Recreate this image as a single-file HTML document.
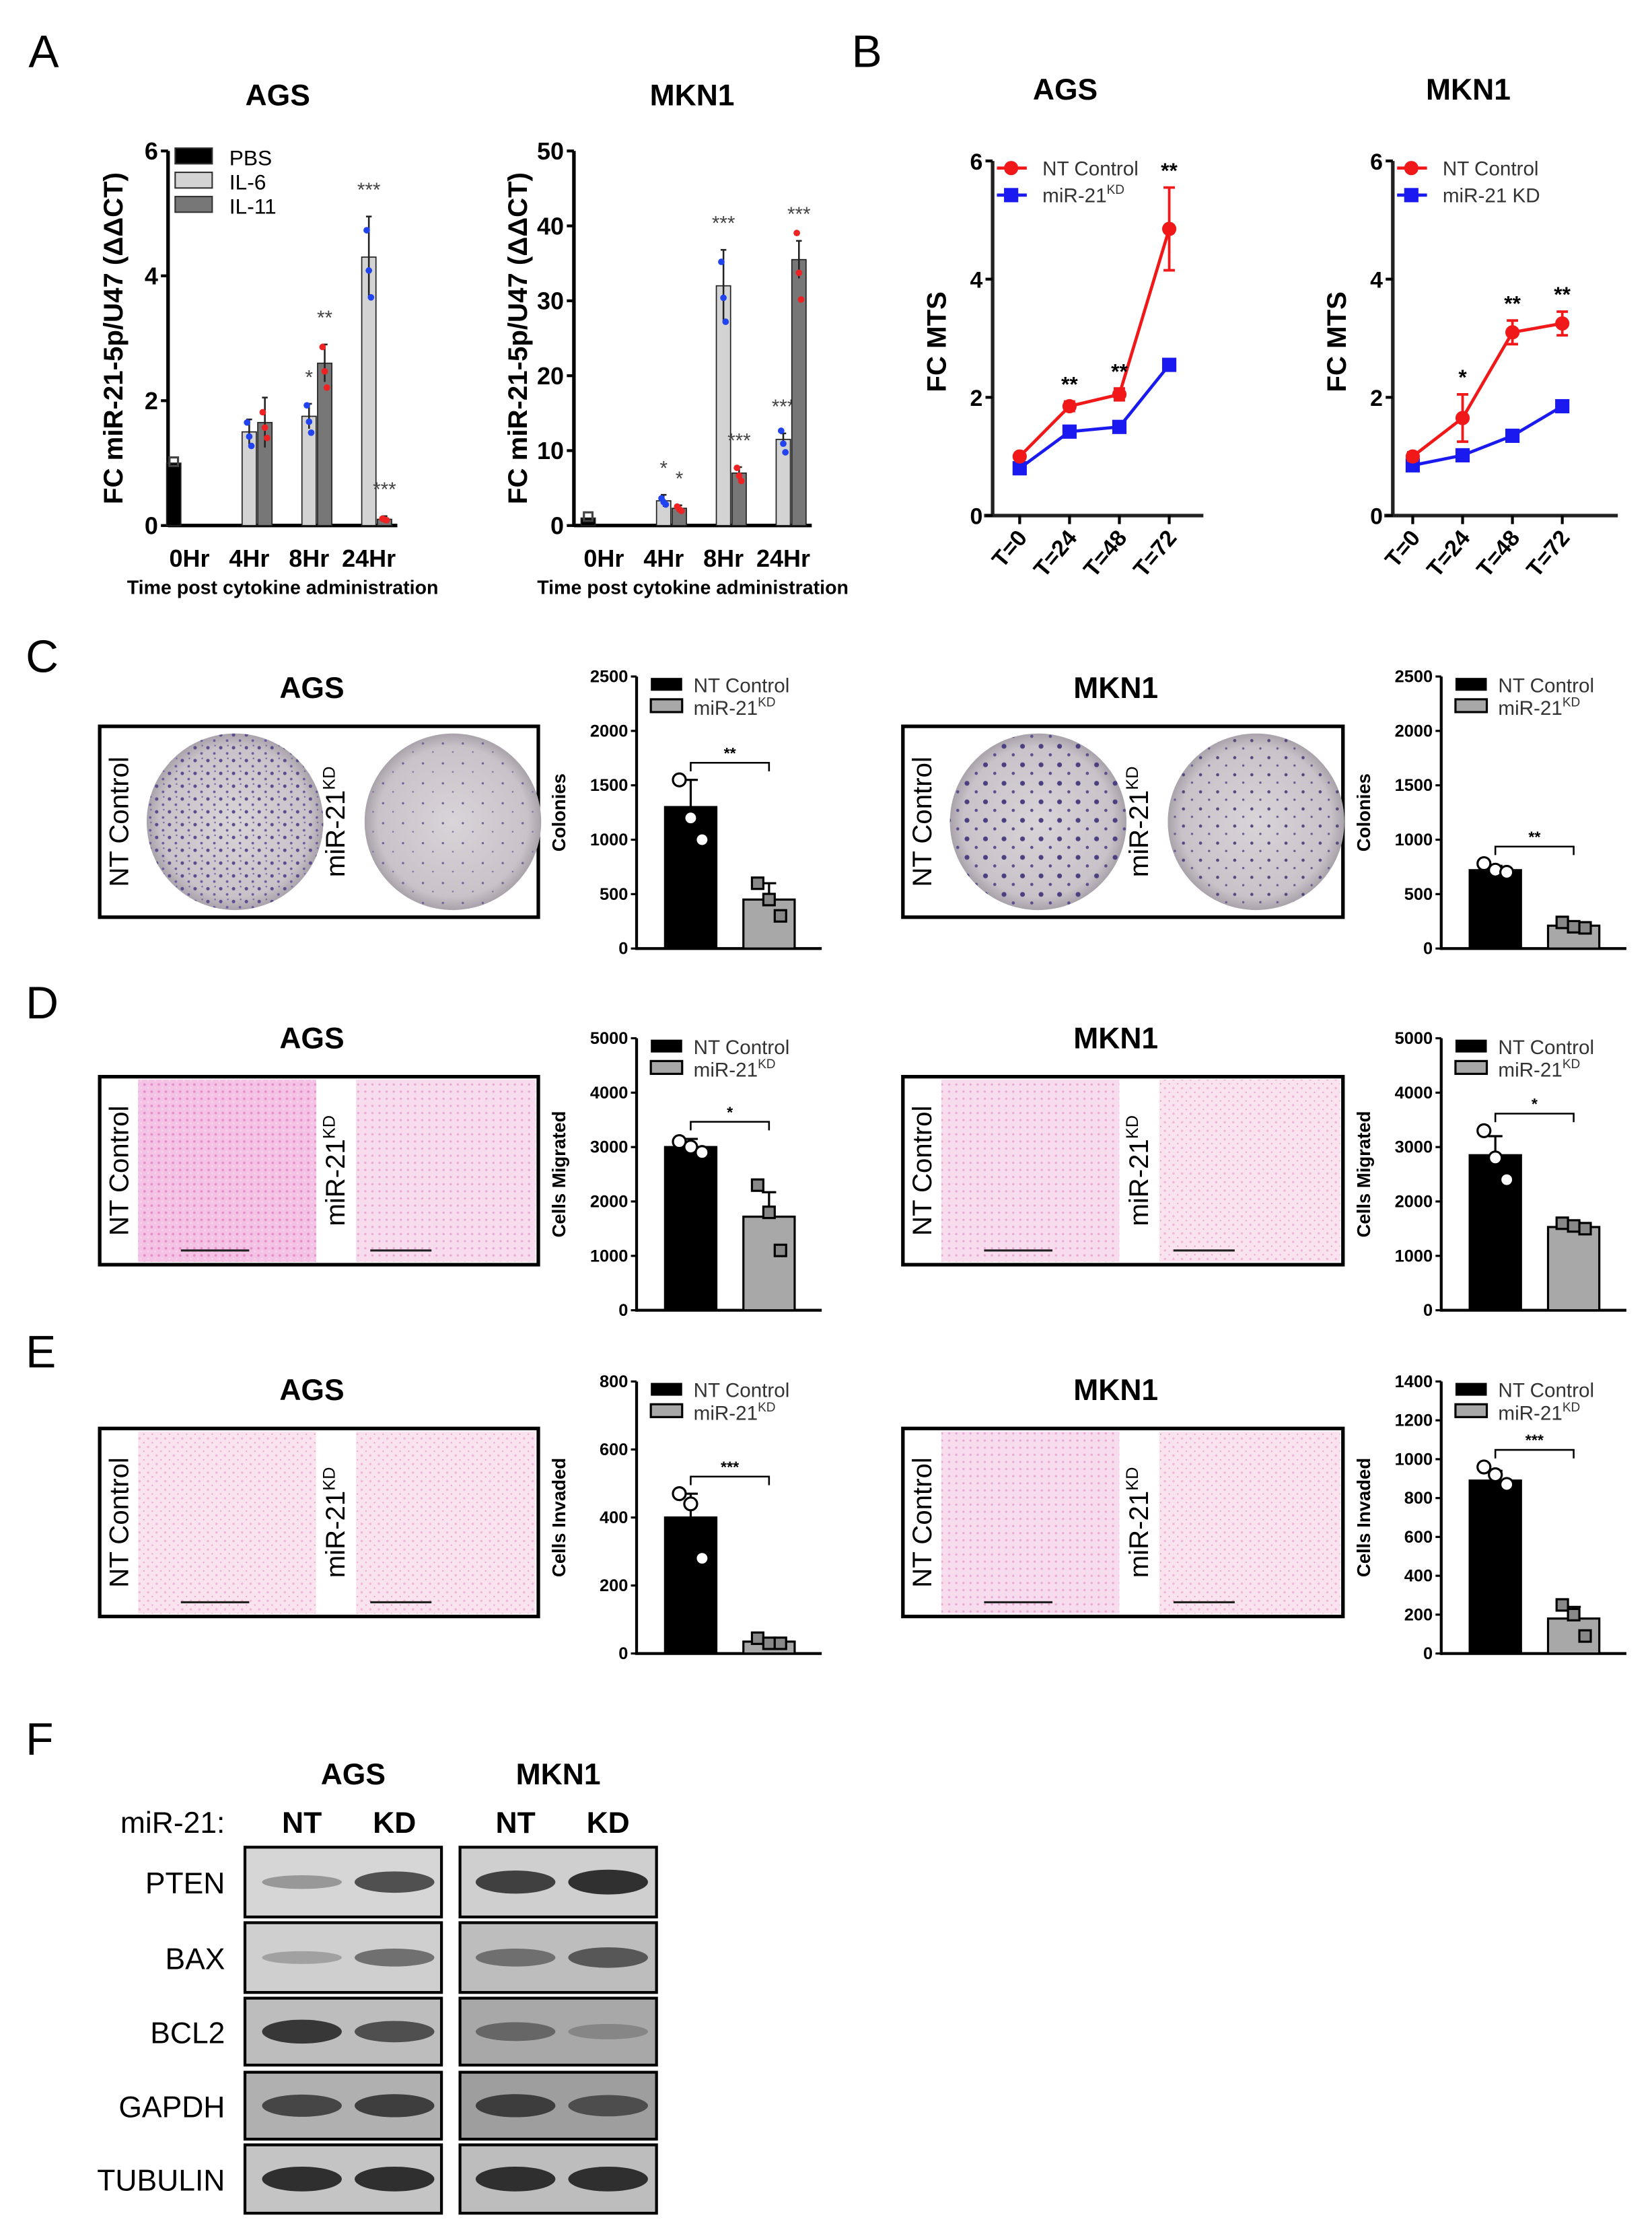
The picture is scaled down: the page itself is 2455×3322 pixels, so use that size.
<!DOCTYPE html>
<html><head><meta charset="utf-8"><title>Figure</title>
<style>
html,body{margin:0;padding:0;background:#fff;}
svg{display:block;font-family:"Liberation Sans",Arial,sans-serif;}
</style></head>
<body>
<svg id="fig" width="2455" height="3322" viewBox="0 0 1160 1570" preserveAspectRatio="none" xmlns="http://www.w3.org/2000/svg">
<defs>
<radialGradient id="plate" cx="50%" cy="50%" r="50%"><stop offset="0%" stop-color="#d9d4d8"/><stop offset="85%" stop-color="#c9c2c9"/><stop offset="100%" stop-color="#a9a2aa"/></radialGradient>
<pattern id="dotsDense" width="9" height="9" patternUnits="userSpaceOnUse"><rect width="9" height="9" fill="none"/><circle cx="2" cy="3" r="1.2" fill="#5a4c8f"/><circle cx="6.5" cy="7" r="0.9" fill="#6c5aa0"/><circle cx="7" cy="1.5" r="0.6" fill="#7b6aa8"/></pattern>
<pattern id="dotsSparse" width="14" height="14" patternUnits="userSpaceOnUse"><circle cx="3" cy="4" r="0.8" fill="#6f6499"/><circle cx="10" cy="10" r="0.6" fill="#7d72a5"/></pattern>
<pattern id="dotsMkn" width="13" height="13" patternUnits="userSpaceOnUse"><circle cx="3" cy="4" r="1.7" fill="#4b3f80"/><circle cx="9.5" cy="10" r="1.1" fill="#5a4e8c"/></pattern>
<pattern id="dotsMknKd" width="12" height="12" patternUnits="userSpaceOnUse"><circle cx="3" cy="4" r="1.1" fill="#54497f"/><circle cx="9" cy="9.5" r="0.8" fill="#685c92"/></pattern>
<pattern id="pink" width="5" height="5" patternUnits="userSpaceOnUse"><rect width="5" height="5" fill="#f4c2e4"/><circle cx="1.5" cy="1.5" r="0.9" fill="#e68fcb"/><circle cx="4" cy="3.8" r="0.6" fill="#f8d8ee"/></pattern>
<pattern id="pinkLight" width="5" height="5" patternUnits="userSpaceOnUse"><rect width="5" height="5" fill="#f7dcee"/><circle cx="1.5" cy="1.5" r="0.8" fill="#eba8d3"/></pattern>
<pattern id="pinkPale" width="6" height="6" patternUnits="userSpaceOnUse"><rect width="6" height="6" fill="#f9e3ef"/><circle cx="2" cy="2" r="0.8" fill="#efb4d6"/><circle cx="5" cy="5" r="0.5" fill="#e898c6"/></pattern>
</defs>
</svg>
<script>
const svg=document.getElementById('fig');
const NS='http://www.w3.org/2000/svg';
function mk(tag,name,attrs,parent,text){const e=document.createElementNS(NS,tag);


for(const k in attrs)e.setAttribute(k,attrs[k]);if(text!==undefined)e.textContent=text;(parent||svg).appendChild(e);return e;}
function txt(name,x,y,s,size,opts){return mk('text',name,Object.assign({x:x,y:y,'font-size':size,fill:'#000'},opts||{}),null,s);}

// ===== Panel A data =====
const aCats=['0Hr','4Hr','8Hr','24Hr'];
const agsPBS=[1.0,null,null,null];
const agsIL6=[null,1.5,1.75,4.3];
const agsIL11=[null,1.65,2.6,0.1];
const agsIL6err=[0,0.2,0.2,0.65];
const agsIL11err=[0,0.4,0.3,0.05];
const agsIL6sig=['','','*','***'];
const agsIL11sig=['','','**','***'];
const agsTicks=[0,2,4,6];
const mkPBS=[1.0,null,null,null];
const mkIL6=[null,3.3,32,11.5];
const mkIL11=[null,2.3,7,35.5];
const mkIL6err=[0,0.8,4.8,0.8];
const mkIL11err=[0,0.4,0.8,2.5];
const mkIL6sig=['','*','***','***'];
const mkIL11sig=['','*','***','***'];
const mkTicks=[0,10,20,30,40,50];

function barChartA(p){
  const y=v=>p.y0-(v/p.max)*(p.y0-p.y1);
  const xg=i=>p.gx0+i*p.gs;
  txt(p.id+'-title',p.tx,74,p.title,21,{'font-weight':'bold','text-anchor':'middle'});
  mk('line',p.id+'-y-axis',{x1:p.ax,y1:p.y1,x2:p.ax,y2:p.y0+1,stroke:'#000','stroke-width':2.5});
  mk('line',p.id+'-x-axis',{x1:p.ax,y1:p.y0,x2:p.xend,y2:p.y0,stroke:'#000','stroke-width':2.5});
  p.ticks.forEach(t=>{mk('line',p.id+'-y-tick',{x1:p.ax-5,y1:y(t),x2:p.ax,y2:y(t),stroke:'#000','stroke-width':2});
    txt(p.id+'-y-tick-label',p.ax-7,y(t)+6,String(t),17,{'font-weight':'bold','text-anchor':'end'});});
  mk('text',p.id+'-y-axis-title',{x:0,y:0,'font-size':19,'font-weight':'bold','text-anchor':'middle',transform:'translate('+p.ylx+','+((p.y0+p.y1)/2)+') rotate(-90)'},null,'FC miR-21-5p/U47 (ΔΔCT)');
  aCats.forEach((c,i)=>txt(p.id+'-x-tick-label',xg(i),398,c,17,{'font-weight':'bold','text-anchor':'middle'}));
  txt(p.id+'-x-axis-title',(p.ax+p.xend)/2,417,'Time post cytokine administration',13.5,{'font-weight':'bold','text-anchor':'middle'});
  const series=[[p.pbs,-11,'#000',null,null,'#444'],[p.il6,0,'#d3d3d3',p.il6e,p.il6s,'#2244ee'],[p.il11,11,'#777',p.il11e,p.il11s,'#ee2222']];
  series.forEach(([vals,off,col,errs,sig,ptc],si)=>{
    vals.forEach((v,i)=>{ if(v===null)return;
      const cx=xg(i)+off;
      mk('rect','bar-'+p.id+'-'+aCats[i]+'-s'+si,{x:cx-5,y:y(v),width:10,height:p.y0-y(v),fill:col,stroke:'#222','stroke-width':0.8});
      if(errs&&errs[i]){mk('line','error-bar',{x1:cx,y1:y(v+errs[i]),x2:cx,y2:y(Math.max(0,v-errs[i])),stroke:'#222','stroke-width':1.2});
        mk('line','error-cap',{x1:cx-2,y1:y(v+errs[i]),x2:cx+2,y2:y(v+errs[i]),stroke:'#222','stroke-width':1.2});}
      if(si===0){mk('rect','point',{x:cx-3,y:y(v)-4,width:6,height:6,fill:'none',stroke:'#444','stroke-width':1.5});}
      else{[1.1,0.95,0.85].forEach((f,k)=>{mk('circle','point',{cx:cx+(k-1)*1.5,cy:y(v*f),r:2.3,fill:ptc});});}
      if(sig&&sig[i])txt('significance',cx,y(v+(errs?errs[i]:0))-14,sig[i],14,{'text-anchor':'middle',fill:'#444'});
    });
  });
}
barChartA({id:'ags',title:'AGS',tx:195,ax:118,xend:279,y0:369,y1:106,max:6,ticks:agsTicks,gx0:133,gs:42,ylx:86,
  pbs:agsPBS,il6:agsIL6,il11:agsIL11,il6e:agsIL6err,il11e:agsIL11err,il6s:agsIL6sig,il11s:agsIL11sig});
barChartA({id:'mkn1',title:'MKN1',tx:486,ax:403,xend:570,y0:369,y1:106,max:50,ticks:mkTicks,gx0:424,gs:42,ylx:370,
  pbs:mkPBS,il6:mkIL6,il11:mkIL11,il6e:mkIL6err,il11e:mkIL11err,il6s:mkIL6sig,il11s:mkIL11sig});
[['PBS','#000'],['IL-6','#d3d3d3'],['IL-11','#777']].forEach(([l,c],i)=>{
  mk('rect','legend-swatch-'+l,{x:123,y:104+i*17,width:26,height:11,fill:c,stroke:'#333','stroke-width':1});
  txt('legend-entry-'+l,161,116+i*17,l,15);});
txt('panel-label-A',20,47,'A',32);
txt('panel-label-B',598,47,'B',32);

// ===== Panel B data =====
const bCats=['T=0','T=24','T=48','T=72'];
const bTicks=[0,2,4,6];
const agsNT=[1.0,1.85,2.05,4.85];
const agsNTerr=[0.05,0.08,0.1,0.7];
const agsKD=[0.8,1.42,1.5,2.55];
const agsSig=['','**','**','**'];
const mkNT=[1.0,1.65,3.1,3.25];
const mkNTerr=[0.07,0.4,0.2,0.2];
const mkKD=[0.85,1.02,1.35,1.85];
const mkSig=['','*','**','**'];
function lineChart(p){
  const y=v=>p.y0-(v/6)*(p.y0-p.y1);
  const x=i=>p.x0+i*35;
  txt(p.id+'-title',p.tx,70,p.title,21,{'font-weight':'bold','text-anchor':'middle'});
  mk('line',p.id+'-y-axis',{x1:p.ax,y1:p.y1,x2:p.ax,y2:p.y0+1,stroke:'#222','stroke-width':2.5});
  mk('line',p.id+'-x-axis',{x1:p.ax-6,y1:p.y0,x2:p.xend,y2:p.y0,stroke:'#222','stroke-width':2.5});
  bTicks.forEach(t=>{mk('line','y-tick',{x1:p.ax-5,y1:y(t),x2:p.ax,y2:y(t),stroke:'#000','stroke-width':2});
    txt('y-tick-label',p.ax-7,y(t)+6,String(t),16,{'font-weight':'bold','text-anchor':'end'});});
  mk('text',p.id+'-y-axis-title',{x:0,y:0,'font-size':19,'font-weight':'bold','text-anchor':'middle',transform:'translate('+(p.ax-33)+',240) rotate(-90)'},null,'FC MTS');
  bCats.forEach((c,i)=>{mk('line','x-tick',{x1:x(i),y1:p.y0,x2:x(i),y2:p.y0+6,stroke:'#000','stroke-width':2});
    mk('text','x-tick-label',{x:0,y:0,'font-size':16,'font-weight':'bold','text-anchor':'end',transform:'translate('+(x(i)+6)+','+(p.y0+16)+') rotate(-50)'},null,c);});
  mk('polyline','line-nt-'+p.id,{points:p.nt.map((v,i)=>x(i)+','+y(v)).join(' '),fill:'none',stroke:'#f01818','stroke-width':2.2});
  mk('polyline','line-kd-'+p.id,{points:p.kd.map((v,i)=>x(i)+','+y(v)).join(' '),fill:'none',stroke:'#1a1af0','stroke-width':2.2});
  p.kd.forEach((v,i)=>mk('rect','point-kd',{x:x(i)-5,y:y(v)-5,width:10,height:10,fill:'#1a1af0'}));
  p.nt.forEach((v,i)=>{const e=p.nte[i];
    mk('path','error-bar',{d:'M'+(x(i)-4)+' '+y(v+e)+'h8M'+x(i)+' '+y(v+e)+'V'+y(v-e)+'M'+(x(i)-4)+' '+y(v-e)+'h8',stroke:'#f01818','stroke-width':1.8,fill:'none'});
    mk('circle','point-nt',{cx:x(i),cy:y(v),r:5,fill:'#f01818'});
    if(p.sig[i])txt('significance',x(i),y(v+e)-7,p.sig[i],15,{'text-anchor':'middle','font-weight':'bold'});});
  mk('line','legend-line-nt',{x1:p.ax+3,y1:118,x2:p.ax+24,y2:118,stroke:'#f01818','stroke-width':2.2});
  mk('circle','legend-marker-nt',{cx:p.ax+13,cy:118,r:5,fill:'#f01818'});
  txt('legend-entry-nt',p.ax+35,123,'NT Control',14,{fill:'#333'});
  mk('line','legend-line-kd',{x1:p.ax+3,y1:137,x2:p.ax+24,y2:137,stroke:'#1a1af0','stroke-width':2.2});
  mk('rect','legend-marker-kd',{x:p.ax+8,y:132,width:10,height:10,fill:'#1a1af0'});
  const t=txt('legend-entry-kd',p.ax+35,142,p.kdLabel,14,{fill:'#333'});
  if(p.sup){mk('tspan','superscript',{'font-size':9,dy:-6},t,'KD');}
}
lineChart({id:'ags-mts',title:'AGS',tx:748,ax:697,xend:845,x0:716,y0:362,y1:113,nt:agsNT,nte:agsNTerr,kd:agsKD,sig:agsSig,kdLabel:'miR-21',sup:true});
lineChart({id:'mkn1-mts',title:'MKN1',tx:1031,ax:978,xend:1136,x0:992,y0:362,y1:113,nt:mkNT,nte:mkNTerr,kd:mkKD,sig:mkSig,kdLabel:'miR-21 KD',sup:false});

// ===== Panels C, D, E =====
const cAgs=[1300,450], cAgsErr=[250,150], cAgsPts=[[1550,1200,1000],[600,450,300]];
const cMkn=[720,210], cMknErr=[40,30], cMknPts=[[780,720,700],[240,200,190]];
const dAgs=[3000,1720], dAgsErr=[150,450], dAgsPts=[[3100,3000,2900],[2300,1800,1100]];
const dMkn=[2850,1530], dMknErr=[350,80], dMknPts=[[3300,2800,2400],[1600,1550,1500]];
const eAgs=[400,35], eAgsErr=[70,10], eAgsPts=[[470,440,280],[45,30,30]];
const eMkn=[890,180], eMknErr=[50,60], eMknPts=[[960,920,870],[250,200,90]];
const cTicks=[0,500,1000,1500,2000,2500];
const dTicks=[0,1000,2000,3000,4000,5000];
const eAgsTicks=[0,200,400,600,800];
const eMknTicks=[0,200,400,600,800,1000,1200,1400];
function smallBar(p){
  const y=v=>p.y0-(v/p.max)*(p.y0-p.y1);
  mk('line',p.id+'-y-axis',{x1:p.ax,y1:p.y1,x2:p.ax,y2:p.y0+1,stroke:'#000','stroke-width':2});
  mk('line',p.id+'-x-axis',{x1:p.ax,y1:p.y0,x2:p.ax+130,y2:p.y0,stroke:'#000','stroke-width':2});
  p.ticks.forEach(t=>{mk('line','y-tick',{x1:p.ax-4,y1:y(t),x2:p.ax,y2:y(t),stroke:'#000','stroke-width':1.5});
    txt('y-tick-label',p.ax-6,y(t)+4,String(t),12,{'font-weight':'bold','text-anchor':'end'});});
  mk('text',p.id+'-y-axis-title',{x:0,y:0,'font-size':13,'font-weight':'bold','text-anchor':'middle',transform:'translate('+(p.ax-50)+','+((p.y0+p.y1)/2)+') rotate(-90)'},null,p.ylabel);
  const xs=[p.ax+38,p.ax+93];
  p.vals.forEach((v,i)=>{
    mk('rect','bar-'+p.id+'-'+(i?'kd':'nt'),{x:xs[i]-18,y:y(v),width:36,height:p.y0-y(v),fill:i?'#a8a8a8':'#000',stroke:'#000','stroke-width':1.5});
    const e=p.err[i];mk('path','error-bar',{d:'M'+xs[i]+' '+y(v)+'V'+y(v+e)+'M'+(xs[i]-5)+' '+y(v+e)+'h10',stroke:'#000','stroke-width':1.5,fill:'none'});
    p.pts[i].forEach((pv,k)=>{const px=xs[i]+(k-1)*8;
      if(i)mk('rect','point',{x:px-4,y:y(pv)-4,width:8,height:8,fill:'#888',stroke:'#000','stroke-width':1.5});
      else mk('circle','point',{cx:px,cy:y(pv),r:4.5,fill:'#fff',stroke:'#000','stroke-width':1.5});});
  });
  const top=Math.max(...p.pts[0],p.vals[0]+p.err[0]);const by=y(top)-12;
  mk('path','significance-bracket',{d:'M'+xs[0]+' '+(by+6)+'V'+by+'H'+xs[1]+'V'+(by+6),stroke:'#000','stroke-width':1.2,fill:'none'});
  txt('significance',(xs[0]+xs[1])/2,by-3,p.sig,11,{'text-anchor':'middle','font-weight':'bold'});
  mk('rect','legend-swatch-nt',{x:p.ax+10,y:p.y1+1,width:22,height:9,fill:'#000'});
  txt('legend-entry-nt',p.ax+40,p.y1+11,'NT Control',14,{fill:'#333'});
  mk('rect','legend-swatch-kd',{x:p.ax+10,y:p.y1+16,width:22,height:9,fill:'#a8a8a8',stroke:'#000','stroke-width':1.5});
  const t=txt('legend-entry-kd',p.ax+40,p.y1+27,'miR-21',14,{fill:'#333'});
  mk('tspan','superscript',{'font-size':9,dy:-6},t,'KD');
}
function imgPanel(id,x,y,w,h,title,kind){
  txt(id+'-title',x+w/2-5,y-20,title,21,{'font-weight':'bold','text-anchor':'middle'});
  mk('rect',id+'-frame',{x:x,y:y,width:w,height:h,fill:'#fff',stroke:'#000','stroke-width':2.5});
  mk('text',id+'-nt-label',{x:0,y:0,'font-size':19,'text-anchor':'middle',transform:'translate('+(x+20)+','+(y+h/2)+') rotate(-90)'},null,'NT Control');
  const t=mk('text',id+'-kd-label',{x:0,y:0,'font-size':19,'text-anchor':'middle',transform:'translate('+(x+172)+','+(y+h/2)+') rotate(-90)'},null,'miR-21');
  mk('tspan','superscript',{'font-size':12,dy:-7},t,'KD');
  if(kind==='plate'){
    const r=h/2-5;const f=id.indexOf('mkn')>=0;
    mk('circle',id+'-nt-plate',{cx:x+95,cy:y+h/2,r:r,fill:'url(#plate)'});
    mk('circle',id+'-nt-colonies',{cx:x+95,cy:y+h/2,r:r,fill:f?'url(#dotsMkn)':'url(#dotsDense)'});
    mk('circle',id+'-kd-plate',{cx:x+248,cy:y+h/2,r:r,fill:'url(#plate)'});
    mk('circle',id+'-kd-colonies',{cx:x+248,cy:y+h/2,r:r,fill:f?'url(#dotsMknKd)':'url(#dotsSparse)'});
  } else {
    mk('rect',id+'-nt-image',{x:x+27,y:y+2,width:125,height:h-4,fill:kind[0]});
    mk('rect',id+'-kd-image',{x:x+180,y:y+2,width:w-182,height:h-4,fill:kind[1]});
    mk('line','scale-bar',{x1:x+57,y1:y+h-10,x2:x+105,y2:y+h-10,stroke:'#222','stroke-width':1.5});
    mk('line','scale-bar',{x1:x+190,y1:y+h-10,x2:x+233,y2:y+h-10,stroke:'#222','stroke-width':1.5});
  }
}
txt('panel-label-C',18,472,'C',32);
txt('panel-label-D',18,715,'D',32);
txt('panel-label-E',18,960,'E',32);
imgPanel('c-ags',70,510,308,134,'AGS','plate');
imgPanel('c-mkn1',634,510,309,134,'MKN1','plate');
imgPanel('d-ags',70,756,308,132,'AGS',['url(#pink)','url(#pinkLight)']);
imgPanel('d-mkn1',634,756,309,132,'MKN1',['url(#pinkLight)','url(#pinkPale)']);
imgPanel('e-ags',70,1003,308,132,'AGS',['url(#pinkPale)','url(#pinkPale)']);
imgPanel('e-mkn1',634,1003,309,132,'MKN1',['url(#pinkLight)','url(#pinkPale)']);
smallBar({id:'c-ags-chart',ax:447,y0:666,y1:475,max:2500,ticks:cTicks,vals:cAgs,err:cAgsErr,pts:cAgsPts,ylabel:'Colonies',sig:'**'});
smallBar({id:'c-mkn1-chart',ax:1012,y0:666,y1:475,max:2500,ticks:cTicks,vals:cMkn,err:cMknErr,pts:cMknPts,ylabel:'Colonies',sig:'**'});
smallBar({id:'d-ags-chart',ax:447,y0:920,y1:729,max:5000,ticks:dTicks,vals:dAgs,err:dAgsErr,pts:dAgsPts,ylabel:'Cells Migrated',sig:'*'});
smallBar({id:'d-mkn1-chart',ax:1012,y0:920,y1:729,max:5000,ticks:dTicks,vals:dMkn,err:dMknErr,pts:dMknPts,ylabel:'Cells Migrated',sig:'*'});
smallBar({id:'e-ags-chart',ax:447,y0:1161,y1:970,max:800,ticks:eAgsTicks,vals:eAgs,err:eAgsErr,pts:eAgsPts,ylabel:'Cells Invaded',sig:'***'});
smallBar({id:'e-mkn1-chart',ax:1012,y0:1161,y1:970,max:1400,ticks:eMknTicks,vals:eMkn,err:eMknErr,pts:eMknPts,ylabel:'Cells Invaded',sig:'***'});

// ===== Panel F =====
txt('panel-label-F',18,1232,'F',32);
txt('f-ags-title',248,1253,'AGS',21,{'font-weight':'bold','text-anchor':'middle'});
txt('f-mkn1-title',392,1253,'MKN1',21,{'font-weight':'bold','text-anchor':'middle'});
txt('f-mir21-label',158,1287,'miR-21:',21,{'text-anchor':'end'});
[['NT',212],['KD',277],['NT',362],['KD',427]].forEach(([s,x])=>txt('f-lane-label',x,1287,s,21,{'font-weight':'bold','text-anchor':'middle'}));
const proteins=['PTEN','BAX','BCL2','GAPDH','TUBULIN'];
const rowY=[1297,1350,1403,1455,1506];
const rowH=[49,49,47,47,48];
const bandInt=[[0.3,0.75,0.85,0.95],[0.25,0.55,0.55,0.7],[0.9,0.75,0.6,0.4],[0.8,0.85,0.85,0.75],[0.95,0.95,0.95,0.95]];
const bgShade=[['#d6d6d6','#cfcfcf'],['#cfcfcf','#bdbdbd'],['#bdbdbd','#a8a8a8'],['#b0b0b0','#9e9e9e'],['#c4c4c4','#bdbdbd']];
const laneX=[212,277,362,427];
proteins.forEach((pn,r)=>{
  txt('f-protein-label-'+pn,158,rowY[r]+rowH[r]/2+8,pn,21,{'text-anchor':'end'});
  [[172,'ags'],[323,'mkn1']].forEach(([bx,c],b)=>{
    mk('rect','blot-'+c+'-'+pn,{x:bx,y:rowY[r],width:138,height:rowH[r],fill:bgShade[r][b],stroke:'#000','stroke-width':2});
  });
  laneX.forEach((lx,l)=>{const v=bandInt[r][l];const g=Math.round(200-170*v);
    mk('ellipse','band-'+pn+'-lane'+l,{cx:lx,cy:rowY[r]+rowH[r]/2,rx:28,ry:3+6*v,fill:'rgb('+g+','+g+','+g+')',opacity:0.95});});
});
</script>
</body></html>
